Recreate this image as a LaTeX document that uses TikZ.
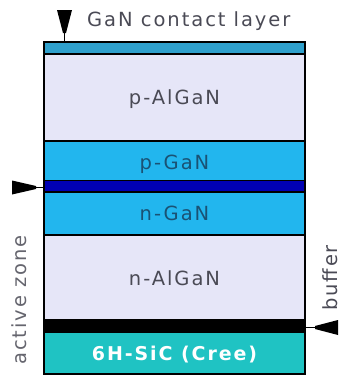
\documentclass[tikz,border=0pt]{standalone}
\usepackage{fontspec}
\newfontfamily\lbl[LetterSpace=10]{DejaVu Sans}
\definecolor{contactc}{HTML}{2FA0CC}
\definecolor{algan}{HTML}{E6E6F8}
\definecolor{ganc}{HTML}{22B6EE}
\definecolor{qw}{HTML}{0000B4}
\definecolor{sic}{HTML}{1FC3C3}
\definecolor{grytxt}{HTML}{4A4A55}
\definecolor{gantxt}{HTML}{1A5274}
\begin{document}
\begin{tikzpicture}[x=1pt,y=-1pt,
  layer/.style={draw=black,line width=1.2pt,minimum width=261pt,inner sep=0pt,outer sep=0pt,
    font=\lbl\fontsize{19.5pt}{22pt}\selectfont,text height=14.2pt,text depth=0pt},
  captxt/.style={font=\lbl\fontsize{19.5pt}{22pt}\selectfont,text=grytxt,inner sep=0pt,
    text height=14.2pt,text depth=0pt},
  wedge/.style={fill=black}]
\useasboundingbox (0,0) rectangle (342,378);
% layers
\node[layer,fill=contactc,minimum height=9pt] (contact) at (174.5,49.5) {};
\node[layer,fill=algan,minimum height=87pt,text=grytxt] (palgan) at (174.5,97.5) {p-AlGaN};
\node[layer,fill=ganc,minimum height=42pt,text=gantxt] (pgan) at (174.5,162) {p-GaN};
\node[layer,fill=qw,minimum height=9pt] (qwl) at (174.5,187.5) {};
\node[layer,fill=ganc,minimum height=43pt,text=gantxt] (ngan) at (174.5,213.5) {n-GaN};
\node[layer,fill=algan,minimum height=86pt,text=grytxt] (nalgan) at (174.5,278) {n-AlGaN};
\node[layer,fill=black,minimum height=11pt] (buf) at (174.5,326.5) {};
\node[layer,fill=sic,minimum height=42pt,text=white,font=\lbl\bfseries\fontsize{19pt}{22pt}\selectfont] (sicl) at (174.5,353) {6H-SiC (Cree)};
\draw[line width=2pt] (contact.north west) rectangle (sicl.south east);
% labels
\node[captxt,anchor=west] (captop) at (87,19) {GaN contact layer};
\node[captxt,rotate=90,text=grytxt!85] (active) at (19,300) {active zone};
\node[captxt,rotate=90] (bufl) at (330.5,278) {buffer};
% markers
\coordinate (t1) at (64.5,33);
\fill[wedge] (57,10) -- (72,10) -- (66,33) -- (63,33) -- cycle;
\draw[line width=1.6pt] (t1) -- (t1 |- contact.north);
\coordinate (l1) at (36,187.5);
\fill[wedge] (12,180.5) -- (12,194.5) -- (36,189) -- (36,186) -- cycle;
\draw[line width=1.6pt] (l1) -- (l1 -| qwl.west);
\coordinate (r1) at (315,327.5);
\fill[wedge] (338,320) -- (338,335) -- (315,329) -- (315,326) -- cycle;
\draw[line width=1.6pt] (r1) -- (r1 -| buf.east);
\end{tikzpicture}
\end{document}
